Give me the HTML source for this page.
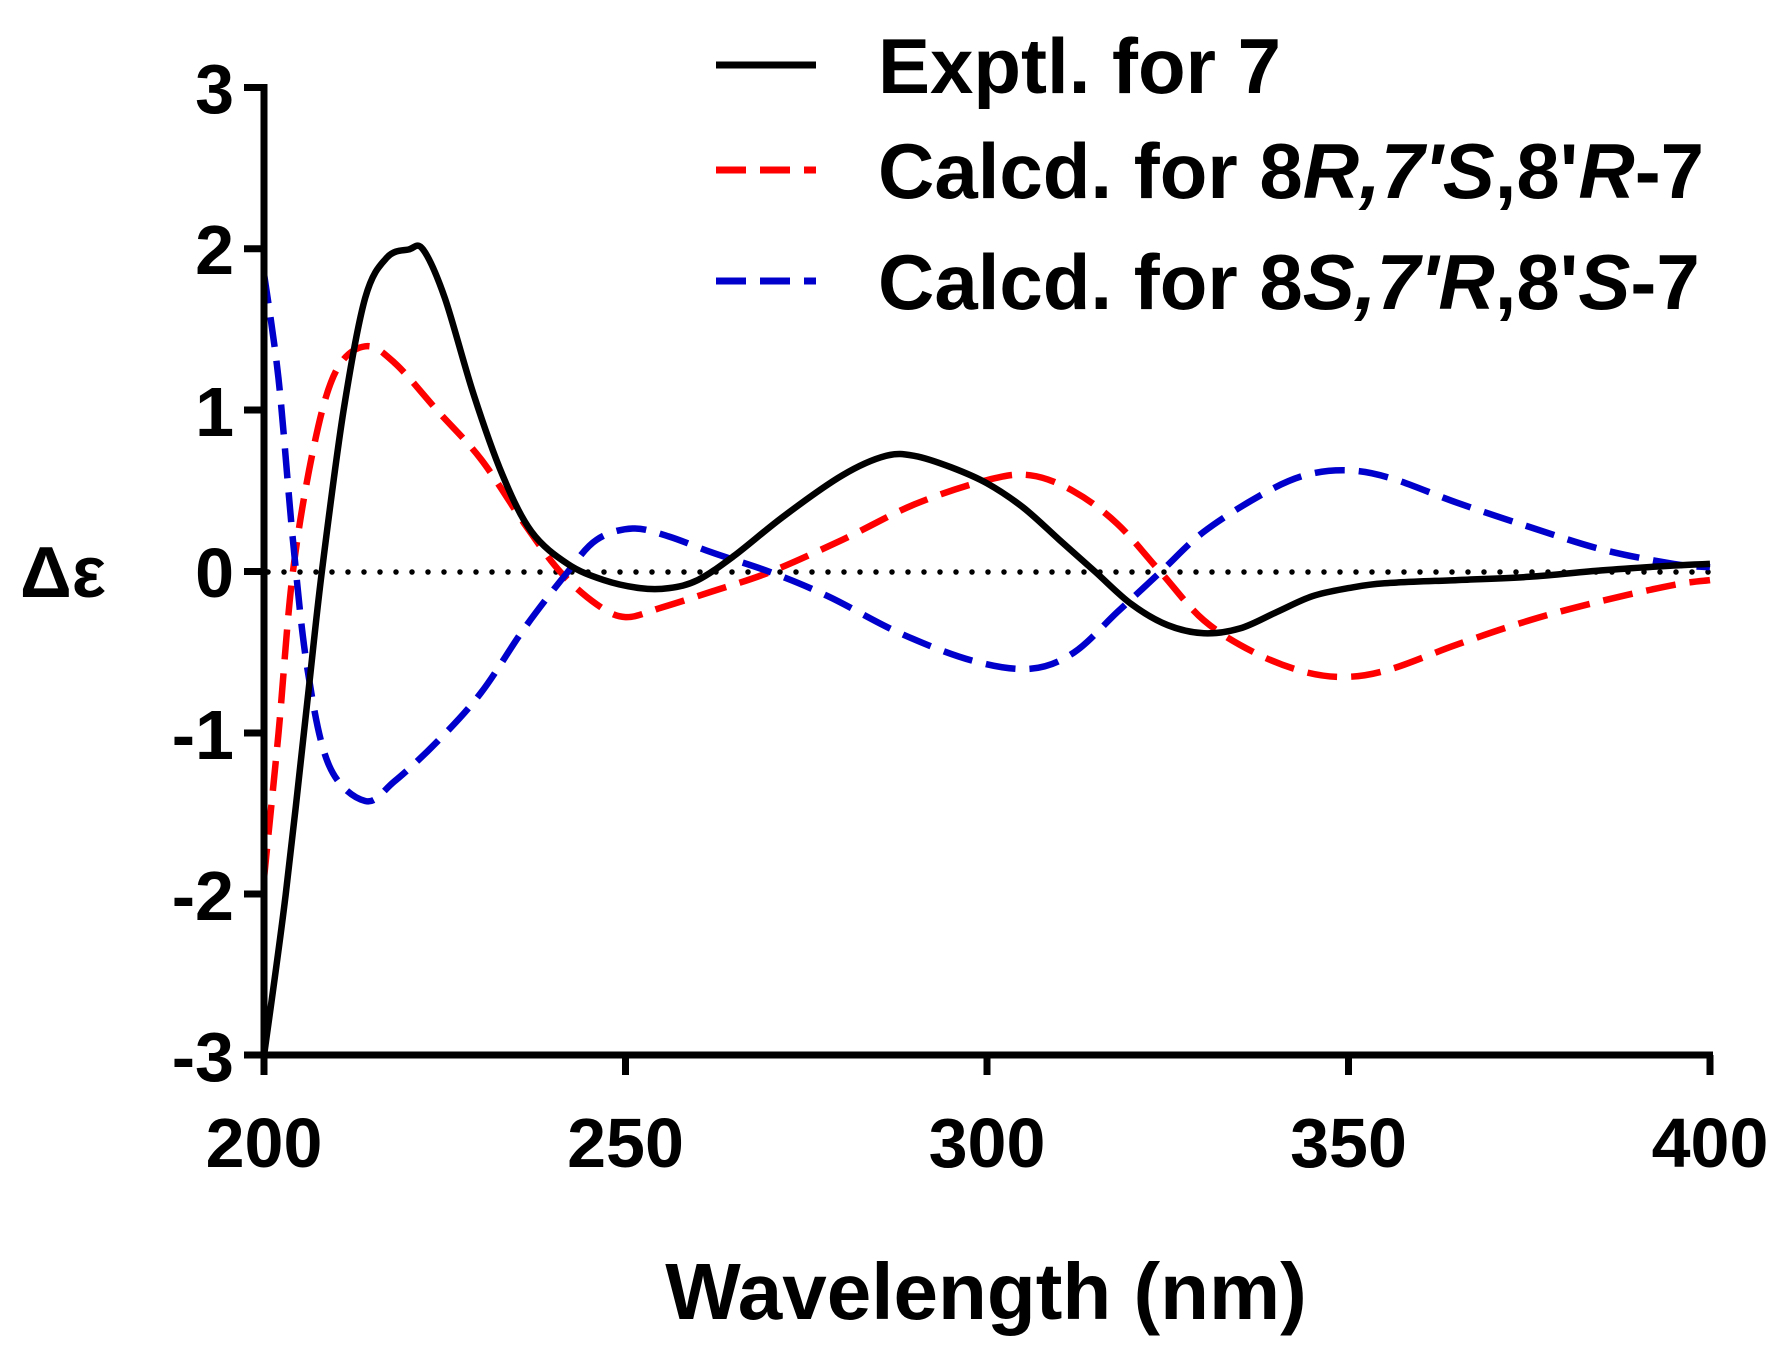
<!DOCTYPE html>
<html><head><style>
html,body{margin:0;padding:0;background:#fff;}
svg{display:block;}
text{font-family:"Liberation Sans",Arial,sans-serif;font-weight:bold;fill:#000;}
</style></head><body>
<svg id="s" width="1782" height="1355" viewBox="0 0 1782 1355" xmlns="http://www.w3.org/2000/svg">
<line x1="268" y1="572" x2="1710" y2="572" stroke="#000" stroke-width="5.5" stroke-dasharray="0 16" stroke-linecap="round"/>
<path id="red" fill="none" stroke="#f00" stroke-width="6.5" stroke-dasharray="30 14"/>
<path id="blue" fill="none" stroke="#00c" stroke-width="6.5" stroke-dasharray="30 14"/>
<path id="black" fill="none" stroke="#000" stroke-width="6.5"/>
<g stroke="#000" stroke-width="7" fill="none">
<line x1="264" y1="84" x2="264" y2="1058"/>
<line x1="261" y1="1055" x2="1713" y2="1055"/>
<line x1="244" y1="87.5" x2="264" y2="87.5"/>
<line x1="244" y1="248.8" x2="264" y2="248.8"/>
<line x1="244" y1="410" x2="264" y2="410"/>
<line x1="244" y1="571.5" x2="264" y2="571.5"/>
<line x1="244" y1="733" x2="264" y2="733"/>
<line x1="244" y1="894" x2="264" y2="894"/>
<line x1="244" y1="1055" x2="264" y2="1055"/>
<line x1="264" y1="1055" x2="264" y2="1075"/>
<line x1="625.5" y1="1055" x2="625.5" y2="1075"/>
<line x1="987" y1="1055" x2="987" y2="1075"/>
<line x1="1348.5" y1="1055" x2="1348.5" y2="1075"/>
<line x1="1710" y1="1055" x2="1710" y2="1075"/>
</g>
<g font-size="70" text-anchor="end">
<text x="234" y="113">3</text>
<text x="234" y="274">2</text>
<text x="234" y="436">1</text>
<text x="234" y="597">0</text>
<text x="234" y="759">-1</text>
<text x="234" y="920">-2</text>
<text x="234" y="1081">-3</text>
</g>
<g font-size="70" text-anchor="middle">
<text x="264" y="1167">200</text>
<text x="625.5" y="1167">250</text>
<text x="987" y="1167">300</text>
<text x="1348.5" y="1167">350</text>
<text x="1710" y="1167">400</text>
</g>
<text x="986" y="1319" font-size="80" text-anchor="middle">Wavelength (nm)</text>
<text x="20" y="597" font-size="72">Δε</text>
<line x1="716" y1="65" x2="816" y2="65" stroke="#000" stroke-width="7"/>
<line x1="716" y1="170" x2="816" y2="170" stroke="#f00" stroke-width="7" stroke-dasharray="30 14"/>
<line x1="716" y1="281" x2="816" y2="281" stroke="#00c" stroke-width="7" stroke-dasharray="30 14"/>
<g font-size="78">
<text x="878" y="93">Exptl. for 7</text>
<text x="878" y="198">Calcd. for 8<tspan font-style="italic">R,7'S</tspan>,8'<tspan font-style="italic">R</tspan>-7</text>
<text x="878" y="309">Calcd. for 8<tspan font-style="italic">S,7'R</tspan>,8'<tspan font-style="italic">S</tspan>-7</text>
</g>
</svg>
<script>
function X(w){return 264+(w-200)*(1446/200);}
function Y(v){return 572-v*161.25;}
function path(d){var p=d.map(function(a){return [X(a[0]),Y(a[1])];});
var s="M"+p[0][0].toFixed(1)+","+p[0][1].toFixed(1);
for(var i=0;i<p.length-1;i++){var p0=p[i-1]||p[i],p1=p[i],p2=p[i+1],p3=p[i+2]||p2;
var c1=[p1[0]+(p2[0]-p0[0])/6,p1[1]+(p2[1]-p0[1])/6],c2=[p2[0]-(p3[0]-p1[0])/6,p2[1]-(p3[1]-p1[1])/6];
s+="C"+c1[0].toFixed(1)+","+c1[1].toFixed(1)+" "+c2[0].toFixed(1)+","+c2[1].toFixed(1)+" "+p2[0].toFixed(1)+","+p2[1].toFixed(1);}
return s;}
var black=[[200,-3],[203,-2],[206,-0.8],[208,0],[211,1],[214,1.7],[217,1.95],[220,2.0],[222,2.0],[225,1.7],[229,1.1],[233,0.6],[237,0.25],[242,0.05],[247,-0.05],[252,-0.1],[256,-0.1],[260,-0.05],[265,0.1],[272,0.35],[280,0.6],[286,0.72],[290,0.72],[295,0.65],[300,0.55],[305,0.4],[310,0.2],[315,0],[320,-0.2],[325,-0.33],[330,-0.38],[335,-0.35],[340,-0.25],[345,-0.15],[350,-0.1],[355,-0.07],[365,-0.05],[375,-0.03],[385,0.01],[395,0.04],[400,0.05]];
var red=[[200,-1.9],[202,-1],[204,0],[207,0.8],[210,1.25],[214,1.4],[218,1.3],[224,1.0],[230,0.7],[236,0.3],[241,0],[246,-0.2],[250,-0.28],[255,-0.22],[262,-0.12],[270,0],[280,0.2],[290,0.42],[300,0.57],[306,0.6],[312,0.5],[318,0.3],[324,0],[330,-0.3],[337,-0.5],[344,-0.62],[350,-0.65],[356,-0.6],[365,-0.45],[375,-0.3],[385,-0.18],[395,-0.08],[400,-0.05]];
var blue=[[200,1.85],[202,1.2],[204,0.2],[206,-0.6],[209,-1.2],[214,-1.42],[218,-1.3],[224,-1.05],[230,-0.75],[236,-0.35],[242,0],[246,0.2],[251,0.27],[256,0.22],[262,0.12],[270,0],[278,-0.15],[288,-0.38],[298,-0.55],[306,-0.6],[312,-0.5],[318,-0.25],[324,0],[330,0.25],[338,0.48],[344,0.6],[350,0.63],[356,0.58],[365,0.43],[375,0.28],[385,0.14],[395,0.05],[400,0.03]];
document.getElementById("black").setAttribute("d",path(black));
document.getElementById("red").setAttribute("d",path(red));
document.getElementById("blue").setAttribute("d",path(blue));
</script>
</body></html>
